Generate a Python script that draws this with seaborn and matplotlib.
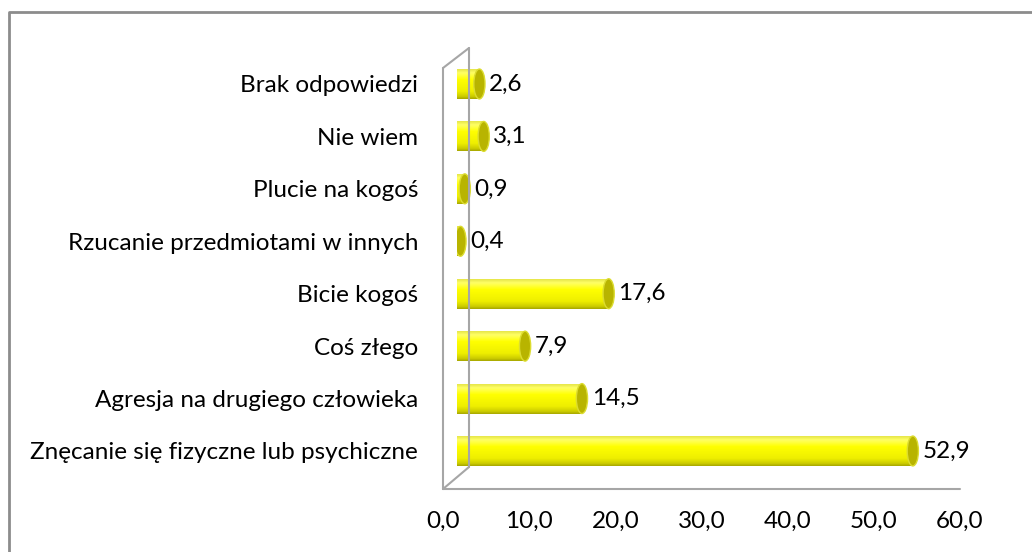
import matplotlib
matplotlib.use('Agg')
import matplotlib.pyplot as plt
import seaborn as sns
import numpy as np
from matplotlib.patches import Ellipse
from matplotlib.lines import Line2D
from matplotlib.colors import LinearSegmentedColormap

categories = ["Brak odpowiedzi", "Nie wiem", "Plucie na kogoś",
              "Rzucanie przedmiotami w innych", "Bicie kogoś", "Coś złego",
              "Agresja na drugiego człowieka",
              "Znęcanie się fizyczne lub psychiczne"]
values = [2.6, 3.1, 0.9, 0.4, 17.6, 7.9, 14.5, 52.9]
xticks = [0, 10, 20, 30, 40, 50, 60]

sns.set_theme(style='white')
plt.rcParams['font.family'] = ['Lato', 'DejaVu Sans']
FS = 17.5

W, H = 1032, 552
fig = plt.figure(figsize=(W / 100, H / 100), dpi=100)
fig.patch.set_facecolor('white')


def fx(px):
    return px / W


def fy(py):
    return 1 - py / H


# tick (front) axes
axt = fig.add_axes([fx(443), fy(489), fx(960) - fx(443), fy(67) - fy(489)])
axt.set_xlim(0, 60)
axt.set_xticks(xticks)
axt.set_xticklabels([f"{t:.1f}".replace('.', ',') for t in xticks])
axt.set_yticks([])
for s in axt.spines.values():
    s.set_visible(False)
axt.patch.set_alpha(0)
axt.tick_params(axis='x', length=0, pad=16, labelsize=FS, labelcolor='black')

# bar axes (depth-shifted)
axb = fig.add_axes([fx(457), fy(489), fx(974) - fx(457), fy(67) - fy(489)])
axb.patch.set_alpha(0)
BH = 0.57
sns.barplot(x=values, y=categories, order=categories, color='#ffff00',
            width=BH, orient='h', ax=axb, saturation=1, zorder=3,
            edgecolor='none')
axb.set_xlim(0, 60)
axb.set_ylim(7.725, -0.324)
axb.set_xticks([])
axb.set_xlabel('')
axb.set_ylabel('')
for s in axb.spines.values():
    s.set_visible(False)
axb.tick_params(axis='y', length=0, pad=28, labelsize=FS, labelcolor='black')

cmap = LinearSegmentedColormap.from_list(
    'cyl', [(0.0, '#e6e64a'), (0.12, '#ffff66'), (0.35, '#ffff00'),
            (0.75, '#eeee00'), (0.92, '#cccc00'), (1.0, '#a8a800')])
grad = np.linspace(0, 1, 64).reshape(-1, 1)

capw = 1.3  # data units for ellipse cap width
for i, (p, v) in enumerate(zip(axb.patches, values)):
    y0 = p.get_y()
    h = p.get_height()
    yc = y0 + h / 2
    im = axb.imshow(grad, cmap=cmap, aspect='auto',
                    extent=[0, v, y0 + h, y0], zorder=3.2, interpolation='bilinear')
    im.set_clip_path(p)
    le2 = Ellipse((0, yc), capw, h, facecolor='none', edgecolor='none', zorder=3.3)
    axb.add_patch(le2)
    im2 = axb.imshow(grad, cmap=cmap, aspect='auto',
                     extent=[-capw / 2, 0, y0 + h, y0], zorder=3.2,
                     interpolation='bilinear')
    im2.set_clip_path(le2)
    cap = Ellipse((v, yc), capw, h, facecolor='#b8b400', edgecolor='#dcdc30',
                  linewidth=1, zorder=3.5)
    axb.add_patch(cap)
    axb.annotate(f"{v:.1f}".replace('.', ','), (v, yc), xytext=(7, 0),
                 textcoords='offset points', ha='left', va='center',
                 fontsize=FS, color='black', zorder=4)
axb.set_xlim(0, 60)
axb.set_ylim(7.725, -0.324)

# 3D frame lines
gray = '#a6a6a6'
frame = [
    [(443, 489), (960, 489)],
    [(443, 68), (443, 489)],
    [(443, 68), (469, 48)],
    [(469, 48), (469, 467)],
    [(469, 467), (443, 489)],
]
for seg in frame:
    xs = [fx(a) for a, b in seg]
    ys = [fy(b) for a, b in seg]
    fig.add_artist(Line2D(xs, ys, color=gray, linewidth=1.5, zorder=0.5))

# outer border
fig.add_artist(Line2D([fx(8.5), fx(8.5), 1.0], [0.0, fy(11.5), fy(11.5)],
                      color='#8c8c8c', linewidth=2, zorder=0.5))

fig.savefig('out.png', dpi=100, facecolor='white')
